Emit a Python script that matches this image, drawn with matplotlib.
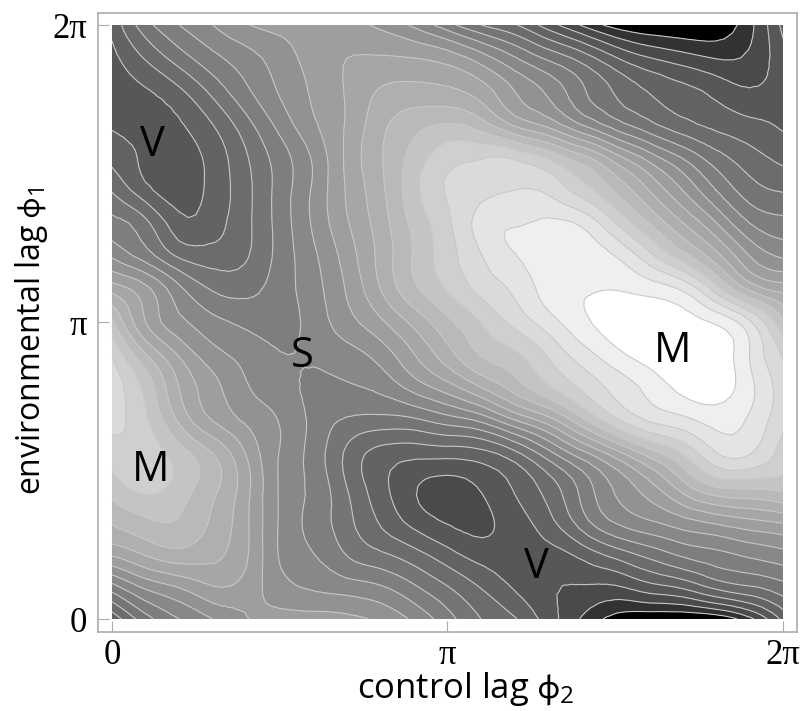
#!/usr/bin/python3

# contour map of the response over the two lags, levels

import numpy as np

import matplotlib
matplotlib.use('Agg')
import matplotlib.pyplot as plt
import matplotlib.tri as tri

# grid rows run from lag 0 to 2 pi, columns too, 21 columns by 19 rows
row_00 = [4.3, 6.6, 8.0, 9.0, 9.95, 10.3, 10.4, 10.25, 9.8, 8.8, 7.4, 6.0, 5.1, 3.5, 1.9, 0.6, 0.1, 0.0, 0.2, 1.7, 4.3]
row_01 = [7.7, 9.3, 10.15, 11.0, 10.6, 9.4, 8.8, 8.45, 8.05, 7.1, 6.0, 4.9, 3.85, 3.1, 2.95, 2.95, 3.7, 4.3, 5.4, 6.0, 6.7]
row_02 = [11.3, 12.2, 12.75, 12.3, 11.15, 8.9, 8.0, 6.9, 6.1, 5.3, 4.3, 3.5, 3.35, 3.6, 4.4, 5.5, 6.45, 7.3, 7.8, 8.3, 8.75]
row_03 = [13.2, 13.9, 13.95, 12.85, 11.2, 8.9, 7.65, 6.3, 4.85, 3.6, 2.85, 2.75, 3.55, 4.7, 6.6, 8.2, 9.0, 9.75, 10.4, 10.9, 11.3]
row_04 = [14.5, 15.3, 14.6, 13.3, 11.35, 8.9, 7.75, 6.0, 4.35, 3.1, 2.6, 3.1, 4.1, 5.45, 7.3, 9.15, 10.6, 12.5, 14.0, 14.2, 14.4]
row_05 = [15.5, 15.6, 14.5, 13.05, 10.95, 8.95, 7.6, 5.8, 4.6, 4.3, 4.35, 4.6, 5.65, 7.55, 9.55, 11.45, 13.35, 15.0, 16.9, 17.05, 15.5]
row_06 = [16.3, 15.2, 12.85, 11.0, 9.85, 8.95, 7.75, 6.85, 6.6, 6.75, 7.4, 8.15, 9.85, 11.45, 13.65, 15.7, 17.05, 17.65, 18.35, 17.85, 16.3]
row_07 = [16.5, 14.7, 12.0, 10.35, 9.1, 8.4, 7.8, 7.85, 8.25, 9.35, 10.5, 11.95, 13.4, 14.8, 16.15, 17.3, 18.3, 19.3, 19.55, 18.3, 16.5]
row_08 = [15.9, 13.1, 10.9, 9.4, 8.65, 8.05, 8.15, 8.6, 9.4, 10.95, 12.6, 14.05, 14.8, 16.1, 17.5, 18.65, 19.5, 20.0, 19.8, 18.0, 15.9]
row_09 = [14.2, 11.0, 9.25, 8.3, 7.75, 7.6, 8.4, 9.6, 10.8, 12.3, 13.75, 15.05, 16.3, 17.55, 18.75, 19.5, 19.8, 19.5, 18.85, 17.2, 14.2]
row_10 = [11.6, 10.3, 8.25, 6.9, 6.7, 7.5, 8.6, 10.1, 12.0, 13.8, 15.1, 16.3, 17.2, 18.45, 18.9, 18.97, 18.6, 17.85, 15.5, 12.8, 11.6]
row_11 = [8.85, 7.5, 5.85, 5.45, 5.9, 7.35, 8.8, 10.45, 12.3, 14.1, 15.6, 16.95, 17.95, 18.5, 18.6, 18.0, 16.35, 14.45, 12.4, 10.0, 8.85]
row_12 = [7.3, 6.25, 4.35, 4.55, 5.75, 7.4, 9.15, 10.9, 12.5, 14.3, 15.8, 17.4, 17.9, 18.2, 17.8, 16.0, 14.0, 12.05, 10.05, 8.0, 7.3]
row_13 = [5.9, 4.3, 3.55, 4.3, 5.7, 7.4, 9.15, 11.1, 12.75, 14.7, 16.1, 16.7, 17.0, 16.8, 15.5, 13.85, 12.0, 10.0, 8.0, 6.45, 5.9]
row_14 = [4.7, 3.8, 3.6, 4.35, 5.9, 7.5, 9.15, 11.2, 12.9, 14.4, 15.6, 15.9, 15.8, 14.8, 13.3, 11.4, 9.55, 7.9, 6.4, 5.4, 4.7]
row_15 = [3.85, 3.6, 3.9, 5.0, 6.65, 8.35, 9.85, 11.1, 12.7, 13.6, 14.05, 13.4, 11.75, 10.6, 8.9, 7.4, 6.25, 5.3, 4.7, 4.25, 3.85]
row_16 = [3.5, 3.9, 4.8, 6.3, 7.8, 9.1, 10.15, 11.1, 12.1, 12.35, 12.2, 11.5, 10.0, 8.8, 7.2, 5.9, 4.95, 4.3, 3.7, 3.1, 3.5]
row_17 = [3.7, 5.1, 6.5, 7.7, 8.6, 9.5, 10.4, 11.0, 11.1, 11.0, 10.6, 9.5, 8.1, 6.8, 5.6, 4.1, 3.05, 2.45, 1.95, 2.2, 3.7]
row_18 = [4.3, 6.6, 8.0, 9.0, 9.95, 10.3, 10.4, 10.25, 9.8, 8.8, 7.4, 6.0, 5.1, 3.5, 1.9, 0.6, 0.1, 0.0, 0.2, 1.7, 4.3]

band_grays = [0, 50, 74, 87, 99, 108, 117, 126, 136, 146, 158, 166, 175, 185, 196, 207, 218, 228, 239, 255]

mark_names = ['V', 'S', 'M', 'M', 'V']
mark_x = [0.061, 0.283, 0.057, 0.835, 0.633]
mark_y = [0.798, 0.443, 0.251, 0.452, 0.088]

tick_vals = [0, np.pi, 2 * np.pi]
tick_names = ['0', 'π', '2π']

if __name__ == '__main__':
    plt.rcParams['mathtext.fontset'] = 'dejavusans'
    plt.rcParams['mathtext.default'] = 'regular'

    z = np.array([row_00, row_01, row_02, row_03, row_04, row_05, row_06, row_07, row_08, row_09,
                  row_10, row_11, row_12, row_13, row_14, row_15, row_16, row_17, row_18])
    x = np.linspace(0, 2 * np.pi, z.shape[1])
    y = np.linspace(0, 2 * np.pi, z.shape[0])
    gx, gy = np.meshgrid(x, y)

    fig = plt.figure(figsize=(8.02, 7.11), dpi=100)
    ax = fig.add_axes([98 / 802, (711 - 632) / 711, 699 / 802, 619.5 / 711])

    # the library's refiner rounds the corners of the coarse grid
    refiner = tri.UniformTriRefiner(tri.Triangulation(gx.ravel(), gy.ravel()))
    fine, fine_z = refiner.refine_field(z.ravel(), subdiv=2)

    levels = np.arange(0.0, 21.0)
    fill_levels = levels.copy()
    fill_levels[0] = -9
    fill_levels[-1] = 29
    colors = ['#%02x%02x%02x' % (g, g, g + 2 if 60 < g < 240 else g) for g in band_grays]
    ax.tricontourf(fine, fine_z, levels=fill_levels, colors=colors)
    ax.tricontour(fine, fine_z, levels=levels[1:-1], colors='#c6c7c8', linewidths=0.8)

    scale_x = 2 * np.pi / 671
    scale_y = 2 * np.pi / 594
    ax.set_xlim(-14 * scale_x, 685 * scale_x)
    ax.set_ylim(-13 * scale_y, 606.5 * scale_y)

    for s in ax.spines.values():
        s.set_color('#ababab')
        s.set_linewidth(1.2)
    ax.tick_params(length=8, width=0.8, color='#ababab', direction='in', pad=5)
    ax.tick_params(axis='y', pad=8)
    ax.set_xticks(tick_vals)
    ax.set_yticks(tick_vals)
    ax.set_xticklabels(tick_names, fontsize=25, family=['Liberation Serif', 'DejaVu Serif'])
    ax.set_yticklabels(tick_names, fontsize=25, family=['Liberation Serif', 'DejaVu Serif'])
    ax.set_xlabel('control lag $\\phi_2$', fontsize=25, family='Open Sans')
    ax.set_ylabel('environmental lag $\\phi_1$', fontsize=23, family='Open Sans')
    ax.xaxis.set_label_coords(0.525, -0.062)
    ax.yaxis.set_label_coords(-0.068, 0.47)

    for name, mx, my in zip(mark_names, mark_x, mark_y):
        ax.text(mx * 2 * np.pi, my * 2 * np.pi, name, fontsize=30, family='Open Sans',
                ha='center', va='center', color='black')

    plt.savefig('out.png', dpi=100)
